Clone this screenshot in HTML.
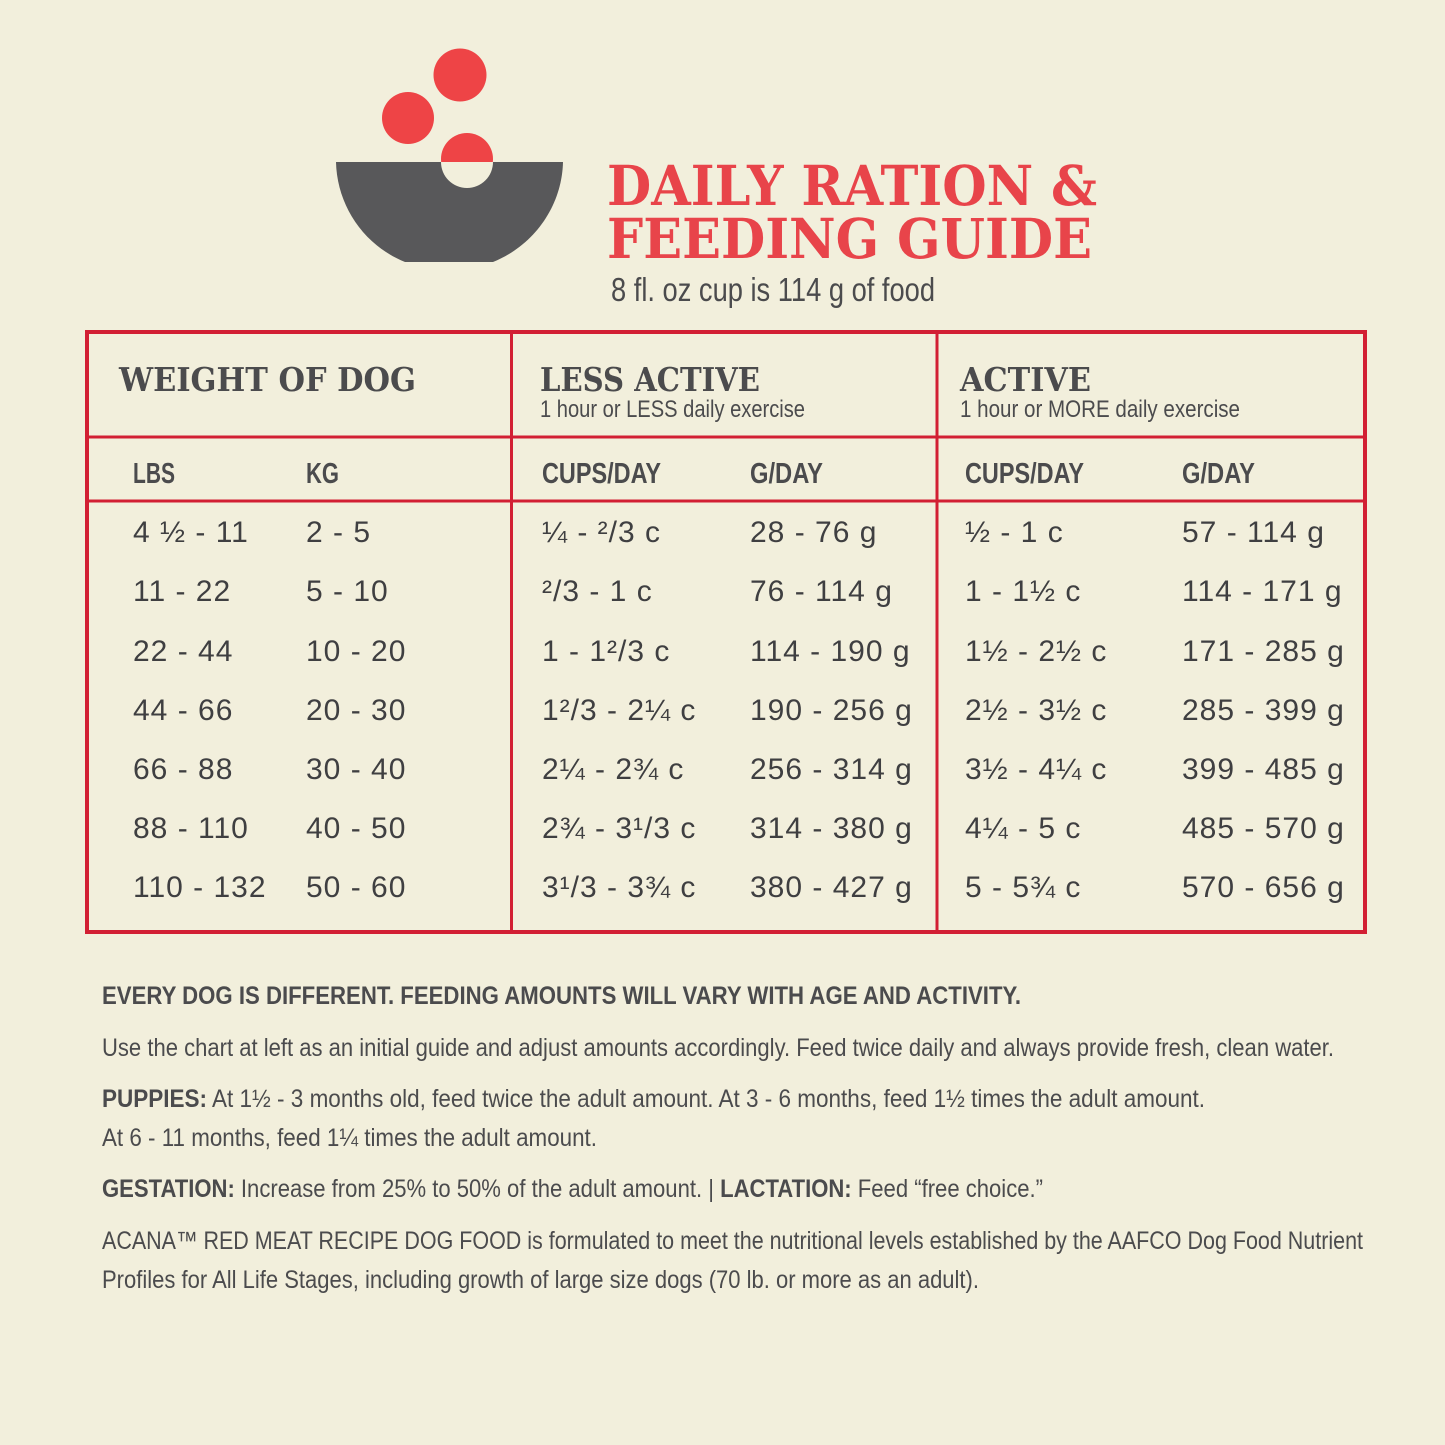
<!DOCTYPE html>
<html><head><meta charset="utf-8"><style>
html,body{margin:0;padding:0;background:#f2efdc;}
svg{display:block}
.t{font-family:"Liberation Sans",sans-serif;fill:#4b4b4d}
.s{font-family:"DejaVu Serif","Liberation Serif",serif;font-weight:bold}
.d{font-size:30px;letter-spacing:1px;fill:#3f3f41;font-family:"Liberation Sans","DejaVu Sans",sans-serif}
</style></head><body>
<svg width="1445" height="1445" viewBox="0 0 1445 1445" xmlns="http://www.w3.org/2000/svg">
<rect width="1445" height="1445" fill="#f2efdc"/>
<!-- logo -->
<circle cx="460" cy="75" r="26.5" fill="#ee4446"/>
<circle cx="408" cy="118" r="26" fill="#ee4446"/>
<circle cx="467" cy="159" r="26" fill="#ee4446"/>
<path d="M336 162 L563 162 C562 205 535 245 493 262 L405 262 C363 245 337 205 336 162 Z" fill="#58585a"/>
<path d="M441 162 A26 26 0 0 0 493 162 Z" fill="#f2efdc"/>
<!-- title -->
<text class="s" x="607" y="205" font-size="55" fill="#e8444a" textLength="490" lengthAdjust="spacingAndGlyphs">DAILY RATION &amp;</text>
<text class="s" x="607" y="258" font-size="55" fill="#e8444a" textLength="485" lengthAdjust="spacingAndGlyphs">FEEDING GUIDE</text>
<text class="t" x="611" y="301" font-size="33" textLength="324" lengthAdjust="spacingAndGlyphs">8 fl. oz cup is 114 g of food</text>
<!-- table -->
<g stroke="#d21f33" fill="none">
<rect x="87" y="332" width="1278" height="600" stroke-width="4"/>
<line x1="511.5" y1="332" x2="511.5" y2="932" stroke-width="3"/>
<line x1="937" y1="332" x2="937" y2="932" stroke-width="3"/>
<line x1="87" y1="437" x2="1365" y2="437" stroke-width="3"/>
<line x1="87" y1="501" x2="1365" y2="501" stroke-width="3"/>
</g>
<g class="s" fill="#4b4b4d" font-size="33">
<text x="119" y="391" textLength="297" lengthAdjust="spacingAndGlyphs">WEIGHT OF DOG</text>
<text x="540" y="391" textLength="220" lengthAdjust="spacingAndGlyphs">LESS ACTIVE</text>
<text x="960" y="391" textLength="131" lengthAdjust="spacingAndGlyphs">ACTIVE</text>
</g>
<text class="t" x="540" y="417" font-size="24" textLength="265" lengthAdjust="spacingAndGlyphs">1 hour or LESS daily exercise</text>
<text class="t" x="960" y="417" font-size="24" textLength="280" lengthAdjust="spacingAndGlyphs">1 hour or MORE daily exercise</text>
<g class="t" font-size="29" font-weight="bold" fill="#3f3f41">
<text x="133" y="483" textLength="42" lengthAdjust="spacingAndGlyphs">LBS</text>
<text x="306" y="483" textLength="33" lengthAdjust="spacingAndGlyphs">KG</text>
<text x="542" y="483" textLength="119" lengthAdjust="spacingAndGlyphs">CUPS/DAY</text>
<text x="750" y="483" textLength="73" lengthAdjust="spacingAndGlyphs">G/DAY</text>
<text x="965" y="483" textLength="119" lengthAdjust="spacingAndGlyphs">CUPS/DAY</text>
<text x="1182" y="483" textLength="73" lengthAdjust="spacingAndGlyphs">G/DAY</text>
</g>
<g class="d">
<text x="133" y="542">4 ½ - 11</text><text x="306" y="542">2 - 5</text><text x="542" y="542">¼ - ²/3 c</text><text x="750" y="542">28 - 76 g</text><text x="965" y="542">½ - 1 c</text><text x="1182" y="542">57 - 114 g</text>
<text x="133" y="601">11 - 22</text><text x="306" y="601">5 - 10</text><text x="542" y="601">²/3 - 1 c</text><text x="750" y="601">76 - 114 g</text><text x="965" y="601">1 - 1½ c</text><text x="1182" y="601">114 - 171 g</text>
<text x="133" y="661">22 - 44</text><text x="306" y="661">10 - 20</text><text x="542" y="661">1 - 1²/3 c</text><text x="750" y="661">114 - 190 g</text><text x="965" y="661">1½ - 2½ c</text><text x="1182" y="661">171 - 285 g</text>
<text x="133" y="720">44 - 66</text><text x="306" y="720">20 - 30</text><text x="542" y="720">1²/3 - 2¼ c</text><text x="750" y="720">190 - 256 g</text><text x="965" y="720">2½ - 3½ c</text><text x="1182" y="720">285 - 399 g</text>
<text x="133" y="779">66 - 88</text><text x="306" y="779">30 - 40</text><text x="542" y="779">2¼ - 2¾ c</text><text x="750" y="779">256 - 314 g</text><text x="965" y="779">3½ - 4¼ c</text><text x="1182" y="779">399 - 485 g</text>
<text x="133" y="838">88 - 110</text><text x="306" y="838">40 - 50</text><text x="542" y="838">2¾ - 3¹/3 c</text><text x="750" y="838">314 - 380 g</text><text x="965" y="838">4¼ - 5 c</text><text x="1182" y="838">485 - 570 g</text>
<text x="133" y="897">110 - 132</text><text x="306" y="897">50 - 60</text><text x="542" y="897">3¹/3 - 3¾ c</text><text x="750" y="897">380 - 427 g</text><text x="965" y="897">5 - 5¾ c</text><text x="1182" y="897">570 - 656 g</text>
</g>
<!-- notes -->
<g class="t" font-size="25" fill="#555557">
<text x="102" y="1004" font-weight="bold" fill="#4b4b4d" textLength="919" lengthAdjust="spacingAndGlyphs">EVERY DOG IS DIFFERENT. FEEDING AMOUNTS WILL VARY WITH AGE AND ACTIVITY.</text>
<text x="102" y="1056" textLength="1232" lengthAdjust="spacingAndGlyphs">Use the chart at left as an initial guide and adjust amounts accordingly. Feed twice daily and always provide fresh, clean water.</text>
<text x="102" y="1107" textLength="1103" lengthAdjust="spacingAndGlyphs"><tspan font-weight="bold" fill="#4b4b4d">PUPPIES:</tspan> At 1½ - 3 months old, feed twice the adult amount. At 3 - 6 months, feed 1½ times the adult amount.</text>
<text x="102" y="1146" textLength="495" lengthAdjust="spacingAndGlyphs">At 6 - 11 months, feed 1¼ times the adult amount.</text>
<text x="102" y="1197" textLength="941" lengthAdjust="spacingAndGlyphs"><tspan font-weight="bold" fill="#4b4b4d">GESTATION:</tspan> Increase from 25% to 50% of the adult amount. | <tspan font-weight="bold" fill="#4b4b4d">LACTATION:</tspan> Feed “free choice.”</text>
<text x="102" y="1249" textLength="1261" lengthAdjust="spacingAndGlyphs">ACANA™ RED MEAT RECIPE DOG FOOD is formulated to meet the nutritional levels established by the AAFCO Dog Food Nutrient</text>
<text x="102" y="1288" textLength="877" lengthAdjust="spacingAndGlyphs">Profiles for All Life Stages, including growth of large size dogs (70 lb. or more as an adult).</text>
</g>
</svg>
</body></html>
